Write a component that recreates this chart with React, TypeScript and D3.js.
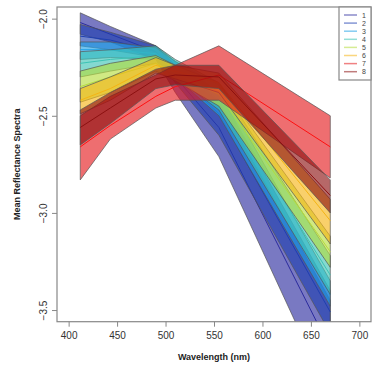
import React, { useEffect, useRef } from 'react';
import * as d3 from 'd3';

const wavelengths = [412, 443, 490, 510, 555, 670];
const seriesNames = ['1', '2', '3', '4', '5', '6', '7', '8'];
const seriesColors = ['#2b2b9e', '#1f3fb0', '#1ea0e6', '#3cc3b4', '#b4dc3c', '#f5b414', '#e41a1c', '#8c1010'];

// upper / mean / lower log reflectance per series, at each wavelength
const upper1 = [-1.97, -2.04, -2.14, -2.24, -2.42, -3.45];
const mean1 = [-2.02, -2.08, -2.17, -2.30, -2.56, -3.70];
const lower1 = [-2.08, -2.12, -2.21, -2.38, -2.71, -3.95];

const upper2 = [-2.03, -2.07, -2.14, -2.22, -2.38, -3.40];
const mean2 = [-2.09, -2.11, -2.17, -2.28, -2.49, -3.51];
const lower2 = [-2.14, -2.16, -2.20, -2.33, -2.60, -3.62];

const upper3 = [-2.12, -2.12, -2.15, -2.22, -2.34, -3.35];
const mean3 = [-2.16, -2.16, -2.18, -2.26, -2.42, -3.42];
const lower3 = [-2.21, -2.20, -2.21, -2.30, -2.50, -3.48];

const upper4 = [-2.17, -2.16, -2.14, -2.21, -2.33, -3.22];
const mean4 = [-2.23, -2.21, -2.19, -2.26, -2.40, -3.32];
const lower4 = [-2.30, -2.27, -2.23, -2.30, -2.47, -3.42];

const upper5 = [-2.27, -2.23, -2.19, -2.24, -2.33, -3.12];
const mean5 = [-2.35, -2.30, -2.23, -2.28, -2.39, -3.20];
const lower5 = [-2.43, -2.38, -2.27, -2.32, -2.45, -3.28];

const upper6 = [-2.36, -2.30, -2.20, -2.24, -2.28, -2.93];
const mean6 = [-2.42, -2.36, -2.24, -2.27, -2.33, -3.04];
const lower6 = [-2.49, -2.42, -2.28, -2.31, -2.38, -3.16];

const upper7 = [-2.50, -2.40, -2.29, -2.24, -2.14, -2.50];
const mean7 = [-2.66, -2.55, -2.40, -2.35, -2.29, -2.66];
const lower7 = [-2.83, -2.62, -2.46, -2.42, -2.42, -2.82];

const upper8 = [-2.47, -2.38, -2.26, -2.24, -2.24, -2.83];
const mean8 = [-2.56, -2.46, -2.31, -2.29, -2.30, -2.91];
const lower8 = [-2.65, -2.54, -2.36, -2.34, -2.36, -3.00];

const uppers = [upper1, upper2, upper3, upper4, upper5, upper6, upper7, upper8];
const means = [mean1, mean2, mean3, mean4, mean5, mean6, mean7, mean8];
const lowers = [lower1, lower2, lower3, lower4, lower5, lower6, lower7, lower8];

const xTicks = [400, 450, 500, 550, 600, 650, 700];
const yTicks = [-2.0, -2.5, -3.0, -3.5];

const App = () => {
  const ref = useRef(null);

  useEffect(() => {
    const svg = d3.select(ref.current);
    svg.selectAll('*').remove();

    const left = 57, right = 371, top = 7, bottom = 321.7;
    const x = d3.scaleLinear().domain([388, 712]).range([left, right]);
    const y = d3.scaleLinear().domain([-3.56, -1.94]).range([bottom, top]);
    const font = 'Liberation Sans, Arial, sans-serif';

    svg.append('defs').append('clipPath').attr('id', 'plotclip')
      .append('rect')
      .attr('x', left).attr('y', top)
      .attr('width', right - left).attr('height', bottom - top);

    const plot = svg.append('g').attr('clip-path', 'url(#plotclip)');

    const area = d3.area()
      .x(d => x(d.w))
      .y0(d => y(d.lo))
      .y1(d => y(d.hi));
    const line = d3.line()
      .x(d => x(d.w))
      .y(d => y(d.m));

    seriesNames.forEach((name, i) => {
      const pts = wavelengths.map((w, j) => ({
        w, lo: lowers[i][j], hi: uppers[i][j], m: means[i][j]
      }));
      plot.append('path')
        .attr('d', area(pts))
        .attr('fill', seriesColors[i])
        .attr('fill-opacity', 0.63)
        .attr('stroke', '#555')
        .attr('stroke-width', 0.7);
      plot.append('path')
        .attr('d', line(pts))
        .attr('fill', 'none')
        .attr('stroke', i === 6 ? '#ff1010' : seriesColors[i])
        .attr('stroke-width', 1);
    });

    // Box
    svg.append('rect')
      .attr('x', left).attr('y', top)
      .attr('width', right - left).attr('height', bottom - top)
      .attr('fill', 'none')
      .attr('stroke', '#888')
      .attr('stroke-width', 1.2);

    // x axis
    const xa = svg.append('g')
      .attr('transform', `translate(0,${bottom})`)
      .call(d3.axisBottom(x).tickValues(xTicks).tickSize(5).tickPadding(5).tickFormat(d3.format('d')));
    xa.select('.domain').remove();
    xa.selectAll('line').attr('stroke', '#888');
    xa.selectAll('text')
      .style('font-family', font)
      .style('font-size', '10px')
      .attr('fill', '#333');

    // y axis
    const ya = svg.append('g')
      .attr('transform', `translate(${left},0)`)
      .call(d3.axisLeft(y).tickValues(yTicks).tickSize(5).tickFormat(d3.format('.1f')));
    ya.select('.domain').remove();
    ya.selectAll('line').attr('stroke', '#888');
    ya.selectAll('text')
      .style('font-family', font)
      .style('font-size', '10px')
      .attr('fill', '#333')
      .attr('text-anchor', 'middle')
      .attr('x', 0)
      .attr('dy', 0)
      .attr('transform', 'translate(-14,0) rotate(-90)')
      .attr('y', 4);

    // Axis labels
    svg.append('text')
      .attr('x', (left + right) / 2)
      .attr('y', 360)
      .attr('text-anchor', 'middle')
      .style('font-family', font)
      .style('font-size', '9px')
      .style('font-weight', 'bold')
      .attr('fill', '#222')
      .text('Wavelength (nm)');

    svg.append('text')
      .attr('transform', `translate(20,${(top + bottom) / 2}) rotate(-90)`)
      .attr('text-anchor', 'middle')
      .style('font-family', font)
      .style('font-size', '9px')
      .style('font-weight', 'bold')
      .attr('fill', '#222')
      .text('Mean Reflectance Spectra');

    // Legend
    const lg = svg.append('g');
    lg.append('rect')
      .attr('x', 339).attr('y', top)
      .attr('width', right - 339).attr('height', 73)
      .attr('fill', 'white')
      .attr('stroke', '#888')
      .attr('stroke-width', 1.2);
    seriesNames.forEach((name, i) => {
      const ly = 15 + i * 8.1;
      lg.append('line')
        .attr('x1', 344).attr('x2', 357)
        .attr('y1', ly).attr('y2', ly)
        .attr('stroke', seriesColors[i])
        .attr('stroke-opacity', 0.55)
        .attr('stroke-width', 1.5);
      lg.append('text')
        .attr('x', 364).attr('y', ly + 2.5)
        .attr('text-anchor', 'middle')
        .style('font-family', font)
        .style('font-size', '7px')
        .attr('fill', '#444')
        .text(name);
    });
  }, []);

  return (
    <svg
      ref={ref}
      width={372}
      height={365}
      style={{ position: 'absolute', left: 0, top: 0, background: 'white' }}
    />
  );
};

export default App;
